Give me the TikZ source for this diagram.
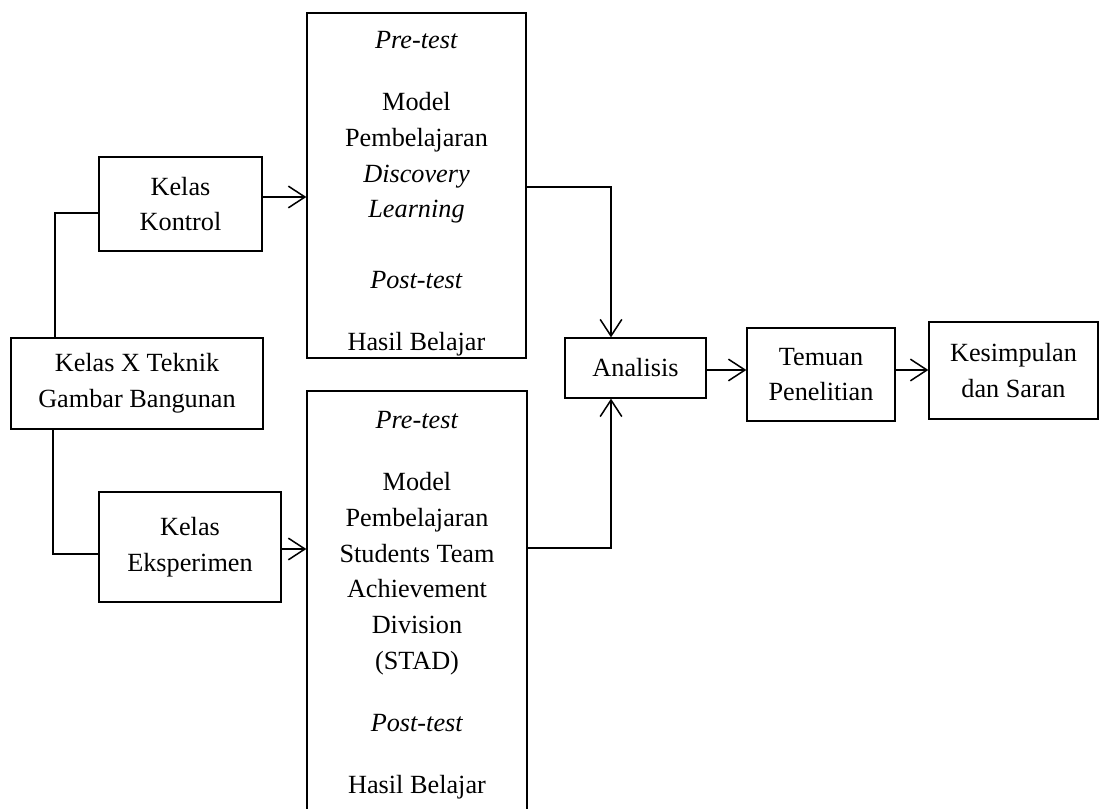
\documentclass[tikz,border=0pt]{standalone}
\usepackage{fontspec}
\setmainfont{Liberation Serif}
\usetikzlibrary{arrows.meta, positioning}
\tikzset{
  box/.style={draw, line width=0.5pt, inner sep=0pt, align=center},
  txt/.style={inner sep=0pt, align=center},
  arr/.style={line width=0.6pt, -{Straight Barb[length=6.5pt, width=8.5pt]}},
  ln/.style={line width=0.6pt}
}

\begin{document}
\begin{tikzpicture}[x=0.0138cm, y=-0.0138cm, font=\fontsize{10.3}{14}\selectfont]
\useasboundingbox (0,0) rectangle (1104,809);
\clip (0,0) rectangle (1104,809);
% Left column
\node[box, minimum width=3.478cm, minimum height=1.256cm] (kelasx) at (137,383.5) {Kelas X Teknik\\Gambar Bangunan};
\node[box, minimum width=2.249cm, minimum height=1.297cm] (kontrol) at (180.5,204) {Kelas\\Kontrol};
\node[box, minimum width=2.512cm, minimum height=1.518cm] (eksperimen) at (190,547) {Kelas\\Eksperimen};
% Treatment boxes (text hangs from the top edge)
\node[box, minimum width=3.022cm, minimum height=4.761cm] (ctrlbox) at (416.5,185.5) {};
\node[txt, below=0.262cm of ctrlbox.north] (ctrltext) {\textit{Pre-test}\\[10.3pt]
  Model\\Pembelajaran\\\textit{Discovery}\\\textit{Learning}\\[13.9pt]
  \textit{Post-test}\\[10.3pt]Hasil Belajar};
\node[box, minimum width=3.036cm, minimum height=7.024cm] (stadbox) at (417,645.5) {};
\node[txt, below=0.29cm of stadbox.north] (stadtext) {\textit{Pre-test}\\[10.3pt]
  Model\\Pembelajaran\\Students Team\\Achievement\\Division\\(STAD)\\[10.3pt]
  \textit{Post-test}\\[10.3pt]Hasil Belajar};
% Right row
\node[box, minimum width=1.946cm, minimum height=0.828cm] (analisis) at (635.5,368) {Analisis};
\node[box, minimum width=2.042cm, minimum height=1.283cm] (temuan) at (821,374.5) {Temuan\\Penelitian};
\node[box, minimum width=2.332cm, minimum height=1.339cm] (kesimpulan) at (1013.5,370.5) {};
\node[txt, below=0.3cm of kesimpulan.north] (kestext) {Kesimpulan\\dan Saran};
% Bend points and line levels
\coordinate (upbend) at (55,213);
\coordinate (lowbend) at (53,554);
\coordinate (kline) at (0,197);
\coordinate (eline) at (0,549);
\coordinate (topbend) at (611,187);
\coordinate (botbend) at (611,548);
\coordinate (rline) at (0,370);
% Connectors
\draw[ln] (upbend |- kelasx.north) -- (upbend) -- (upbend -| kontrol.west);
\draw[ln] (lowbend |- kelasx.south) -- (lowbend) -- (lowbend -| eksperimen.west);
\draw[arr] (kontrol.east |- kline) -- (ctrlbox.west |- kline);
\draw[arr] (eksperimen.east |- eline) -- (stadbox.west |- eline);
\draw[arr] (topbend -| ctrlbox.east) -- (topbend) -- (topbend |- analisis.north);
\draw[arr] (botbend -| stadbox.east) -- (botbend) -- (botbend |- analisis.south);
\draw[arr] (analisis.east |- rline) -- (temuan.west |- rline);
\draw[arr] (temuan.east |- rline) -- (kesimpulan.west |- rline);
\end{tikzpicture}
\end{document}
